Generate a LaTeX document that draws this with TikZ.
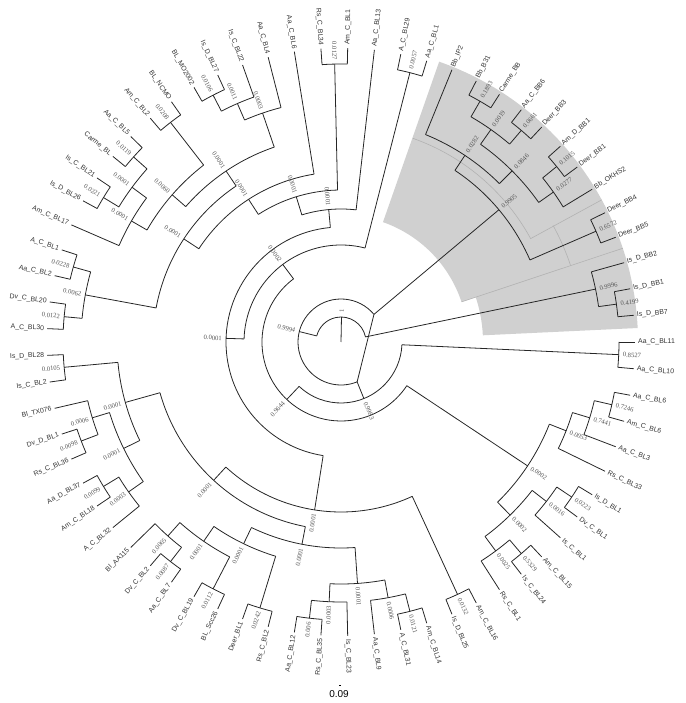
\documentclass[tikz,border=0pt]{standalone}
\usepackage{fontspec}
\setmainfont{Liberation Serif}
\newfontfamily\leaffont{Liberation Sans}
\newfontfamily\bootfont{Liberation Serif}
\usetikzlibrary{positioning}
\definecolor{cladegray}{RGB}{208,208,208}
\definecolor{edgegray}{RGB}{178,178,178}
\definecolor{bootgray}{RGB}{85,85,85}

% side of the circle: rotation and anchor for a label at angle #1
\newcommand{\setrot}[1]{%
  \pgfmathtruncatemacro\rside{cos(#1)>-0.01 ? 1 : 0}%
  \ifnum\rside=1 \pgfmathsetmacro\rot{#1}\def\anch{west}%
  \else \pgfmathsetmacro\rot{#1+180}\def\anch{east}\fi}

% \clade{name}{radius}{from}{to}{parent radius}{support}
\newcommand{\clade}[6]{%
  \pgfmathsetmacro\cmid{(#3+#4)/2}%
  \draw[branch] (#3:#2) arc[start angle=#3, end angle=#4, radius=#2pt];
  \coordinate (#1) at (\cmid:#2);
  \draw[branch] (#1) -- (\cmid:#5);
  \setrot{\cmid}%
  \pgfmathsetmacro\lr{#2+4}%
  \node[boot, anchor=\anch, rotate=\rot] (#1t) at (\cmid:\lr) {#6};
}

\begin{document}
\begin{tikzpicture}[x=1pt, y=1pt,
  branch/.style={draw=black!85, line width=0.8pt},
  leaf/.style={font=\leaffont\fontsize{6.9}{8}\selectfont, text=black!80, inner sep=0pt},
  boot/.style={font=\bootfont\fontsize{6.6}{8}\selectfont, text=bootgray, inner sep=0pt},
  hilite/.style={fill=cladegray},
  rim/.style={draw=edgegray, line width=0.6pt}
]
\useasboundingbox (-341,-361) rectangle (344,342);

% highlighted clades
\fill[hilite] (2.7:297) arc[start angle=2.7, end angle=70.7, radius=297pt]
  -- (70.7:127) arc[start angle=70.7, end angle=18.4, radius=127pt]
  -- (18.4:142) arc[start angle=18.4, end angle=2.7, radius=142pt] -- cycle;
\draw[rim] (18.4:127) -- (18.4:297);
\draw[rim] (70.6:216) arc[start angle=70.6, end angle=28.6, radius=216pt] -- (28.6:297);
\draw[rim] (28.8:242) arc[start angle=28.8, end angle=18.4, radius=242pt];

% leaves
\foreach \nm/\pr [count=\i from 0] in {
  Aa\_C\_BL11/278, Is\_D\_BB7/278, Is\_D\_BB1/278, Is\_D\_BB2/260,
  Deer\_BB5/278, Deer\_BB4/278, Bb\_OKHS2/260, Deer\_BB1/278,
  Am\_D\_BB1/278, Deer\_BB3/278, Aa\_C\_BB6/278, Carme\_BB/278,
  Bb\_B31/278, Bb\_IP2/224, Aa\_C\_BL1/278, A\_C\_BL29/278,
  Aa\_C\_BL13/133, Am\_C\_BL1/278, Rs\_C\_BL34/278, Aa\_C\_BL6/170,
  Aa\_C\_BL4/242, Is\_C\_BL22/260, Is\_D\_BL27/278, BL\_MO2002/278,
  BL\_NCMO/278, Am\_C\_BL2/278, Aa\_C\_BL5/278, Carme\_BL/278,
  Is\_C\_BL21/278, Is\_D\_BL26/278, Am\_C\_BL17/242, A\_C\_BL1/278,
  Aa\_C\_BL2/278, Dv\_C\_BL20/278, A\_C\_BL30/278, Is\_D\_BL28/278,
  Is\_C\_BL2/278, Bl\_TX076/260, Dv\_D\_BL1/278, Rs\_C\_BL36/278,
  Aa\_D\_BL37/278, Am\_C\_BL18/278, A\_C\_BL32/260, Bl\_AA115/260,
  Dv\_C\_BL2/278, Aa\_C\_BL7/278, Dv\_C\_BL19/278, BL\_Scc26/278,
  Deer\_BL1/278, Rs\_C\_BL2/278, Aa\_C\_BL12/278, Rs\_C\_BL35/278,
  Is\_C\_BL23/260, Aa\_C\_BL9/260, A\_C\_BL31/278, Am\_C\_BL14/278,
  Is\_D\_BL25/278, Am\_C\_BL16/278, Rs\_C\_BL1/260, Is\_C\_BL24/278,
  Am\_C\_BL15/278, Is\_C\_BL1/260, Dv\_C\_BL1/278, Is\_D\_BL1/278,
  Rs\_C\_BL33/242, Aa\_C\_BL3/260, Am\_C\_BL6/278, Aa\_C\_BL6/278,
  Aa\_C\_BL10/278} {
  \pgfmathsetmacro\ang{\i*5.2173913}
  \draw[branch] (\ang:\pr) -- (\ang:294);
  \setrot{\ang}
  \node[leaf, anchor=\anch, rotate=\rot] (leaf\i) at (\ang:297) {\nm};
}

% Bb and Is_D clades
\clade{n8527}{278}{354.78}{360}{61}{0.8527}
\clade{n4199}{278}{5.22}{10.43}{260}{0.4199}
\clade{n9996}{260}{7.83}{15.65}{25}{0.9996}
\clade{n6572}{278}{20.87}{26.09}{206}{0.6572}
\clade{n1015}{278}{36.52}{41.74}{260}{0.1015}
\clade{n0277}{260}{31.30}{39.13}{242}{0.0277}
\clade{n0661}{278}{46.96}{52.17}{260}{0.0661}
\clade{n1893}{278}{57.39}{62.61}{260}{0.1893}
\clade{n0019}{260}{49.57}{60.00}{242}{0.0019}
\clade{n0846}{242}{35.22}{54.78}{224}{0.0846}
\clade{n0282}{224}{45.00}{67.83}{206}{0.0282}
\clade{n9905}{206}{23.48}{56.41}{43}{0.9905}

% upper left
\clade{n0057}{278}{73.04}{78.26}{97}{0.0057}
\clade{n0127}{278}{88.70}{93.91}{152}{0.0127}
\clade{n0106}{278}{114.78}{120.00}{260}{0.0106}
\clade{n0011}{260}{109.57}{117.39}{242}{0.0011}
\clade{n0003a}{242}{104.35}{113.48}{206}{0.0003}
\clade{n0208}{278}{125.22}{130.43}{224}{0.0208}
\clade{n0119}{278}{135.65}{140.87}{260}{0.0119}
\clade{n0221}{278}{146.09}{151.30}{260}{0.0221}
\clade{nNa}{260}{138.26}{148.70}{242}{0.0001}
\clade{nRa}{242}{143.48}{156.52}{224}{0.0001}
\clade{n0060}{224}{127.83}{150.00}{206}{0.0060}
\clade{nDa}{206}{108.91}{138.91}{188}{0.0001}
\clade{n0228}{278}{161.74}{166.96}{260}{0.0228}
\clade{n0122}{278}{172.17}{177.39}{260}{0.0122}
\clade{n0062}{260}{164.35}{174.78}{188}{0.0062}
\clade{nEa}{188}{123.91}{169.57}{170}{0.0001}
\clade{nXa}{170}{99.13}{146.74}{152}{0.0001}
\clade{nAa}{152}{91.30}{122.93}{133}{0.0001}
\clade{nBa}{133}{83.48}{107.12}{115}{0.0001}

% left and bottom
\clade{n0105}{278}{182.61}{187.83}{224}{0.0105}
\clade{n0098}{278}{198.26}{203.48}{260}{0.0098}
\clade{n0006a}{260}{193.04}{200.87}{242}{0.0006}
\clade{n0099}{278}{208.70}{213.91}{260}{0.0099}
\clade{n0003b}{260}{211.30}{219.13}{242}{0.0003}
\clade{nN2}{242}{196.96}{215.22}{224}{0.0001}
\clade{nN1}{224}{185.22}{206.09}{188}{0.0001}
\clade{n0087}{278}{229.57}{234.78}{260}{0.0087}
\clade{n0065}{260}{224.35}{232.17}{242}{0.0065}
\clade{n0112}{278}{240.00}{245.22}{242}{0.0112}
\clade{nNb}{242}{228.26}{242.61}{224}{0.0001}
\clade{n0242}{278}{250.43}{255.65}{224}{0.0242}
\clade{nN4}{224}{235.43}{253.04}{206}{0.0001}
\clade{n006}{278}{260.87}{266.09}{260}{0.006}
\clade{n0003c}{260}{263.48}{271.30}{242}{0.0003}
\clade{n0121}{278}{281.74}{286.96}{260}{0.0121}
\clade{n0006b}{260}{276.52}{284.35}{242}{0.0006}
\clade{nBb}{242}{267.39}{280.43}{206}{0.0001}
\clade{nN5}{206}{244.24}{273.91}{188}{0.0001}
\clade{nN3}{188}{195.65}{259.08}{170}{0.0001}
\clade{n0132}{278}{292.17}{297.39}{170}{0.0132}
\clade{nM}{170}{227.36}{294.78}{115}{0.0001}
\clade{nL}{115}{95.30}{261.07}{97}{0.0001}
\clade{n0002a}{97}{75.65}{178.19}{79}{0.0002}

% lower right
\clade{n0223}{278}{323.48}{328.70}{260}{0.0223}
\clade{n0016}{260}{318.26}{326.09}{242}{0.0016}
\clade{n5329}{278}{307.83}{313.04}{260}{0.5329}
\clade{n0025}{260}{302.61}{310.43}{242}{0.0025}
\clade{n0002b}{242}{306.52}{322.17}{224}{0.0002}
\clade{n7246}{278}{344.35}{349.57}{260}{0.7246}
\clade{n7441}{260}{339.13}{346.96}{242}{0.7441}
\clade{n0053}{242}{333.91}{343.04}{224}{0.0053}
\clade{n0002c}{224}{314.35}{338.48}{79}{0.0002}

% deep nodes
\clade{n9644}{79}{126.92}{326.41}{61}{0.9644}
\clade{n9983}{61}{226.67}{357.39}{43}{0.9983}
\clade{n9994}{43}{39.95}{292.03}{25}{0.9994}
\clade{nroot}{25}{11.74}{165.99}{0}{1}
\draw[branch] (39.95:43) -- (292.03:43);

% scale
\coordinate (sb1) at (-2,-343);
\coordinate (sb2) at (0,-343);
\draw[line width=0.6pt] (sb1) -- (sb2);
\node[font=\leaffont\fontsize{10}{12}\selectfont, below=5pt of sb1, inner sep=0pt] (sbt) {0.09};
\end{tikzpicture}
\end{document}
